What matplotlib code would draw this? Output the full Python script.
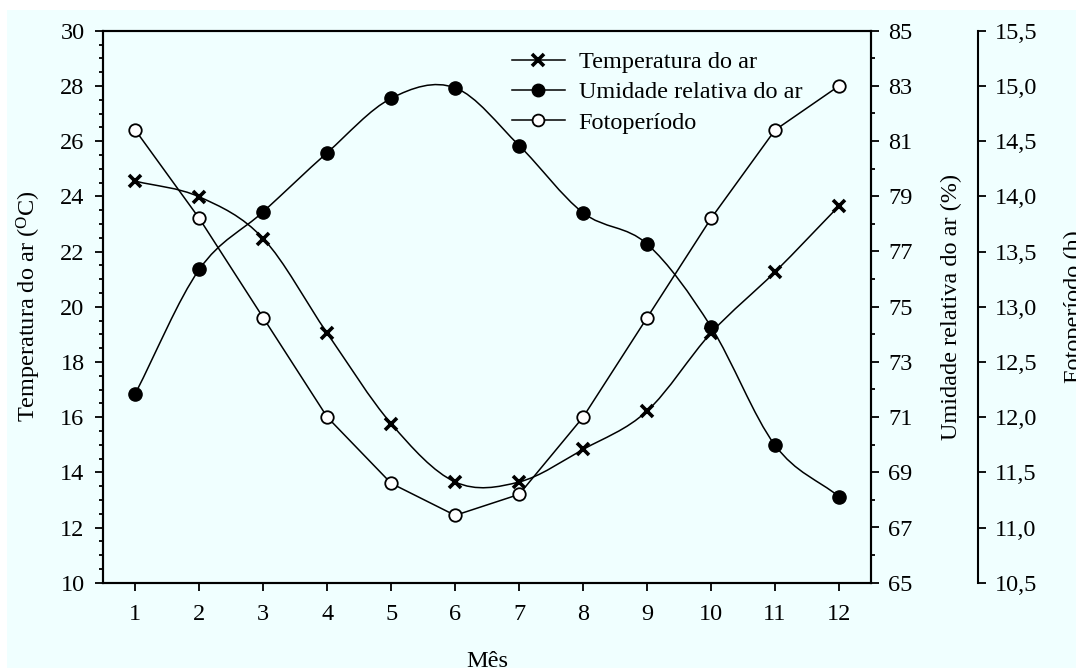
import numpy as np
import matplotlib
matplotlib.use("Agg")
import matplotlib.pyplot as plt
from matplotlib.path import Path
from matplotlib.patches import PathPatch, Rectangle
from matplotlib.lines import Line2D
from matplotlib.ticker import MultipleLocator, FixedLocator, FixedFormatter

FS = 17.5
plt.rcParams['font.family'] = ['Liberation Serif', 'DejaVu Serif']
plt.rcParams['mathtext.fontset'] = 'custom'
plt.rcParams['mathtext.rm'] = 'Liberation Serif'
plt.rcParams['mathtext.it'] = 'Liberation Serif:italic'
plt.rcParams['font.size'] = FS

# Monthly climate data
months = [1, 2, 3, 4, 5, 6, 7, 8, 9, 10, 11, 12]
temperatura = [24.55, 23.98, 22.47, 19.04, 15.76, 13.65, 13.65, 14.83, 16.22, 19.05, 21.26, 23.65]
umidade = [71.85, 76.35, 78.44, 80.58, 82.55, 82.93, 80.84, 78.40, 77.27, 74.27, 69.98, 68.12]
fotoperiodo = [14.60, 13.80, 12.90, 12.00, 11.40, 11.11, 11.30, 12.00, 12.90, 13.80, 14.60, 15.00]

temp_ticks = [10, 12, 14, 16, 18, 20, 22, 24, 26, 28, 30]
umid_ticks = [65, 67, 69, 71, 73, 75, 77, 79, 81, 83, 85]
foto_ticks = [10.5, 11.0, 11.5, 12.0, 12.5, 13.0, 13.5, 14.0, 14.5, 15.0, 15.5]
foto_tick_labels = ['10,5', '11,0', '11,5', '12,0', '12,5', '13,0', '13,5',
                    '14,0', '14,5', '15,0', '15,5']

series_names = ['Temperatura do ar', 'Umidade relativa do ar', 'Fotoperíodo']

BG = '#F0FFFF'
LW = 1.1


def smooth_path(x, y):
    """Cubic Bezier path through the points (Catmull-Rom tangents)."""
    x = np.asarray(x, float)
    y = np.asarray(y, float)
    n = len(x)
    mx = np.empty(n)
    my = np.empty(n)
    mx[1:-1] = (x[2:] - x[:-2]) / 2
    my[1:-1] = (y[2:] - y[:-2]) / 2
    mx[0], my[0] = x[1] - x[0], y[1] - y[0]
    mx[-1], my[-1] = x[-1] - x[-2], y[-1] - y[-2]
    verts = [(x[0], y[0])]
    codes = [Path.MOVETO]
    for i in range(n - 1):
        verts += [(x[i] + mx[i] / 3, y[i] + my[i] / 3),
                  (x[i + 1] - mx[i + 1] / 3, y[i + 1] - my[i + 1] / 3),
                  (x[i + 1], y[i + 1])]
        codes += [Path.CURVE4] * 3
    return Path(verts, codes)


W, H = 1076, 668
fig = plt.figure(figsize=(W / 100, H / 100), dpi=100, facecolor='white')
fig.patches.append(Rectangle((7 / W, 0), 1, 658 / H, transform=fig.transFigure,
                             facecolor=BG, edgecolor='none', zorder=-10))

ax = fig.add_axes([103.3 / W, 1 - 582.7 / H, (871 - 103.3) / W, (582.7 - 30.7) / H])
ax.set_facecolor(BG)
ax2 = ax.twinx()
ax3 = ax.twinx()
for a in (ax2, ax3):
    a.patch.set_visible(False)

# Temperature (left axis)
ax.add_patch(PathPatch(smooth_path(months, temperatura), fill=False, lw=LW, color='black', zorder=2))
ax.plot(months, temperatura, ls='none', marker='x', ms=8.5, mew=2.6, color='black', zorder=3)

# Relative humidity (first right axis)
ax2.add_patch(PathPatch(smooth_path(months, umidade), fill=False, lw=LW, color='black', zorder=2))
ax2.plot(months, umidade, ls='none', marker='o', ms=9.5, mfc='black', mec='black', zorder=3)

# Photoperiod (second right axis)
ax3.plot(months, fotoperiodo, ls='-', lw=LW, color='black', marker='o', ms=9,
         mfc='white', mec='black', mew=1.3, zorder=3)

ax.set_xlim(0.5, 12.5)
ax.set_ylim(10, 30)
ax2.set_ylim(65, 85)
ax3.set_ylim(10.5, 15.5)

ax.set_xticks(months)
ax.yaxis.set_major_locator(FixedLocator(temp_ticks))
ax.yaxis.set_minor_locator(MultipleLocator(0.5))
ax2.yaxis.set_major_locator(FixedLocator(umid_ticks))
ax2.yaxis.set_minor_locator(MultipleLocator(1))
ax3.yaxis.set_major_locator(FixedLocator(foto_ticks))
ax3.yaxis.set_major_formatter(FixedFormatter(foto_tick_labels))
ax3.yaxis.set_minor_locator(FixedLocator([]))

SPW = 1.5
for a in (ax, ax2, ax3):
    for s in a.spines.values():
        s.set_linewidth(SPW)
ax3.spines['right'].set_position(('axes', (977.5 - 103.3) / (871 - 103.3)))
for s in ('left', 'top', 'bottom'):
    ax3.spines[s].set_visible(False)

ax.tick_params(axis='both', which='major', direction='out', length=5.5, width=1.3, labelsize=FS)
ax.tick_params(axis='y', which='major', pad=8)
ax.tick_params(axis='x', which='major', pad=10)
ax.tick_params(axis='y', which='minor', direction='out', length=3, width=1.3)
ax.tick_params(axis='y', right=False, which='both')
for a in (ax2, ax3):
    a.tick_params(axis='y', which='major', direction='out', length=5.5, width=1.3, pad=7, labelsize=FS)
    a.tick_params(axis='y', which='minor', direction='out', length=3, width=1.3)

# Axis labels
ymid = 0.5 * (1 - 582.7 / H) + 0.5 * (1 - 30.7 / H)
ax.set_xlabel('Mês', va='baseline')
ax.xaxis.set_label_coords(487 / W, 1.0 / H, transform=fig.transFigure)
ax.set_ylabel(r'Temperatura do ar ($^{\mathrm{O}}$C)', va='center')
ax.yaxis.set_label_coords(29 / W, ymid, transform=fig.transFigure)
ax2.set_ylabel('Umidade relativa do ar (%)', va='center', rotation=90)
ax2.yaxis.set_label_coords(951 / W, ymid, transform=fig.transFigure)
ax3.set_ylabel('Fotoperíodo (h)', va='center', rotation=90)
ax3.yaxis.set_label_coords(1074 / W, ymid, transform=fig.transFigure)

handles = [
    Line2D([], [], color='black', lw=LW, marker='x', ms=8, mew=2.6),
    Line2D([], [], color='black', lw=LW, marker='o', ms=9, mfc='black'),
    Line2D([], [], color='black', lw=LW, marker='o', ms=8.5, mfc='white', mew=1.3),
]
ax3.legend(handles, series_names, loc='upper left', frameon=False,
           bbox_to_anchor=(511.7 / W, 1 - 51 / H), bbox_transform=fig.transFigure,
           borderaxespad=0, borderpad=0, labelspacing=0.34, handlelength=2.2,
           handletextpad=0.55, numpoints=1, fontsize=FS)

fig.savefig('out.png', dpi=100, facecolor=fig.get_facecolor())
